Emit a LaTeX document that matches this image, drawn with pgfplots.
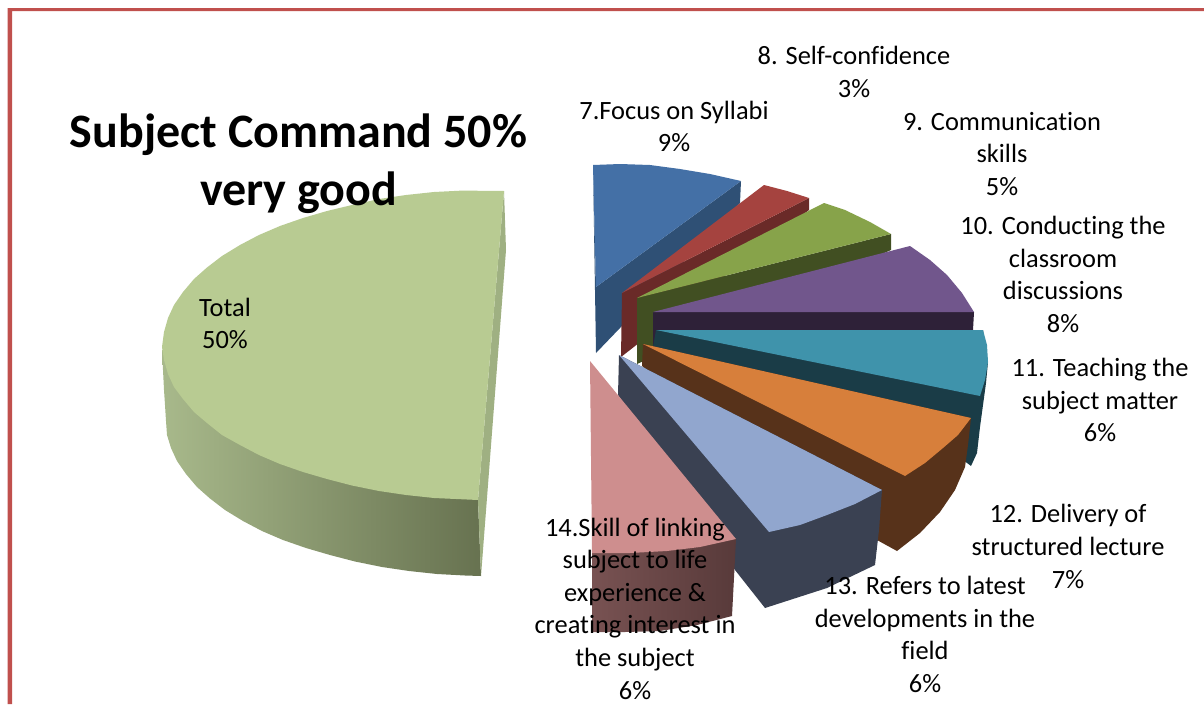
\documentclass[border=0pt]{standalone}
\usepackage{pgfplots}
\pgfplotsset{compat=1.18}
\usepackage{fontspec}
\setmainfont[Ligatures=NoCommon]{Carlito}
\definecolor{frame}{HTML}{C0504D}
\definecolor{bt}{HTML}{4470A6}\definecolor{bs}{HTML}{2F5075}
\definecolor{rt}{HTML}{A5433F}\definecolor{rs}{HTML}{6A2A28}
\definecolor{gt}{HTML}{87A34A}\definecolor{gs}{HTML}{414F22}
\definecolor{pt}{HTML}{71568C}\definecolor{ps}{HTML}{2E2138}
\definecolor{tt}{HTML}{3F93AB}\definecolor{ts}{HTML}{1A3C47}
\definecolor{ot}{HTML}{D77F3B}\definecolor{os}{HTML}{57321A}
\definecolor{wt}{HTML}{91A6CE}\definecolor{ws}{HTML}{3A4152}
\definecolor{kt}{HTML}{CE8E8E}\definecolor{ka}{HTML}{785252}\definecolor{kb}{HTML}{583A3A}
\definecolor{lt}{HTML}{B8CB92}\definecolor{la}{HTML}{A8B98B}\definecolor{lb}{HTML}{677250}\definecolor{lc}{HTML}{9FB082}
\tikzset{lab/.style={align=center,anchor=center,font=\fontsize{26.4}{32.6}\selectfont,text=black,inner sep=0pt}}
\begin{document}
\begin{tikzpicture}
\begin{axis}[scale only axis,width=1204pt,height=704pt,xmin=0,xmax=1204,ymin=0,ymax=704,y dir=reverse,hide axis,clip=false]
% page and frame
\addplot[fill=white,draw=none] coordinates {(0,0)(1204,0)(1204,704)(0,704)};
\addplot[fill=frame,draw=none] coordinates {(7.5,8)(1204,8)(1204,11)(12,11)(12,704)(7.5,704)};
% big slice
\addplot[left color=la,right color=lb,draw=none] coordinates {(162,350)(163,370)(164,390)(165,405)(166,421)(167,435)(171,448)(177,461)(186,474)(197,487)(210,498.5)(225,510)(243,521)(262,531)(283,540)(306,548)(330,555)(355,561.5)(382,567)(409,571)(437,574)(465,575.5)(481,576)(478,500)};
\addplot[fill=lc,draw=none] coordinates {(504,191)(506,250)(481,576)(478,500)};
\addplot[fill=lt,draw=none] coordinates {(504,191)(462,190.6)(434,192)(406,195)(379,199)(352,205)(327,211)(303,218)(280,226)(259,235)(240,245)(222,256)(207,267.5)(194,279)(183,292)(174,305)(168,318)(164,332)(162,347)(164,360)(168,374)(174,387)(183,399)(194,412)(207,423)(222,435)(240,445)(259,455)(280,464)(303,472)(327,479)(352,485.5)(379,491)(406,495)(434,498)(478,500)};
% blue
\addplot[fill=bs,draw=none] coordinates {(593,165)(596,287)(741,181)(740,203)(596,353)};
\addplot[fill=bt,draw=none] coordinates {(593,165)(620,164)(650,165)(680,169)(710,174)(741,181)(596,287)};
% red
\addplot[fill=rs,draw=none] coordinates {(622,293)(809,198)(809,210)(621,357)};
\addplot[fill=rt,draw=none] coordinates {(622,293)(764,185)(787,191)(809,198)};
% green
\addplot[fill=gs,draw=none] coordinates {(637,298)(891,234)(891,250)(637,364)};
\addplot[fill=gt,draw=none] coordinates {(637,298)(824,203)(845,210)(870,222)(891,234)};
% purple
\addplot[fill=ps,draw=none] coordinates {(653,312)(974,312)(973,330)(653,350)};
\addplot[fill=pt,draw=none] coordinates {(653,312)(910,246)(930,260)(947,275)(962,293)(974,312)};
% teal
\addplot[fill=ts,draw=none] coordinates {(656,330)(983,330)(988,362)(986,383)(980,427)(977,453)(971,466)(950,450)(653,400)(653,347)};
\addplot[fill=tt,draw=none] coordinates {(656,330)(983,330)(987,345)(988,362)(985,380)(980,396)};
% orange
\addplot[fill=os,draw=none] coordinates {(643,344)(971,418)(968,445)(965,467)(955,490)(940,512)(920,533)(897,551)(877,540)(642,366)};
\addplot[fill=ot,draw=none] coordinates {(643,344)(971,418)(958,435)(943,448)(925,463)(905,476)};
% periwinkle
\addplot[fill=ws,draw=none] coordinates {(619,355)(882,490)(879,530)(875,565)(827,588)(765,608)(735,570)(618,395)};
\addplot[fill=wt,draw=none] coordinates {(619,355)(882,490)(855,504)(827,515)(800,525)(769,532)};
% pink
\addplot[left color=ka,right color=kb,draw=none] coordinates {(592,553)(592,632)(625,632)(660,631)(697,625)(732,616)(736,539)};
\addplot[fill=kt,draw=none] coordinates {(590,361)(736,539)(700,547)(667,551)(630,553)(592,553)};
% labels
\node[lab,font=\fontsize{48}{58}\selectfont\bfseries] at (axis cs:298.5,164) {Subject Command 50\%\\very good};
\node[lab] at (axis cs:225,323.5) {Total\\50\%};
\node[lab] at (axis cs:854,72) {8. Self-confidence\\3\%};
\node[lab] at (axis cs:674,126.5) {7.Focus on Syllabi\\9\%};
\node[lab] at (axis cs:1002,154) {9. Communication\\skills\\5\%};
\node[lab] at (axis cs:1063,274.5) {10. Conducting the\\classroom\\discussions\\8\%};
\node[lab] at (axis cs:1100,400) {11. Teaching the\\subject matter\\6\%};
\node[lab] at (axis cs:1068,546.5) {12. Delivery of\\structured lecture\\7\%};
\node[lab] at (axis cs:925,634.5) {13. Refers to latest\\developments in the\\field\\6\%};
\node[lab] at (axis cs:635,608.5) {14.Skill of linking\\subject to life\\experience \&\\creating interest in\\the subject\\6\%};
\end{axis}
\end{tikzpicture}
\end{document}
